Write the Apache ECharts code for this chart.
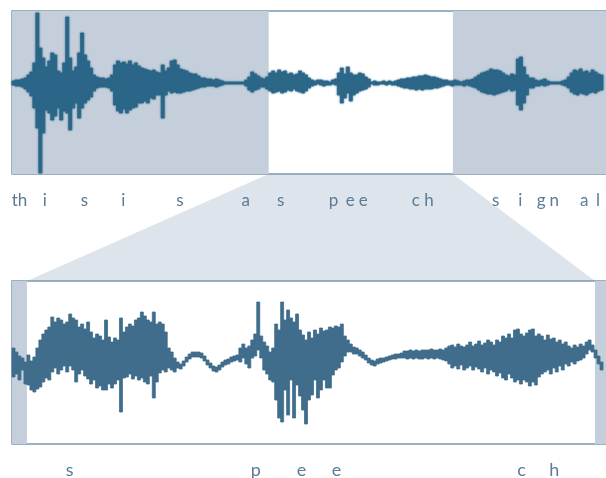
<!DOCTYPE html>
<html>
<head>
<meta charset="utf-8">
<style>
  html, body { margin: 0; padding: 0; background: #ffffff; }
  #chart { width: 606px; height: 478px; }
</style>
<script src="https://cdn.jsdelivr.net/npm/echarts@6/dist/echarts.min.js"></script>
</head>
<body>
<div id="chart"></div>
<script>
// Full utterance: per-column peak envelope (upper / lower amplitude), one column per time step
const fullHigh = [
  2, 3, 3, 4, 5, 8, 11, 20, 70, 35,
  25, 16, 22, 30, 28, 12, 10, 20, 66, 25,
  12, 16, 30, 50, 28, 22, 15, 8, 6, 5,
  5, 4, 5, 8, 18, 22, 20, 21, 19, 22,
  18, 20, 17, 15, 14, 13, 12, 13, 11, 10,
  18, 12, 15, 22, 23, 18, 14, 13, 12, 10,
  9, 9, 7, 5, 5, 4, 4, 3, 4, 3,
  2, 1, 1, 1, 1, 1, 1, 1, 3, 6,
  11, 9, 7, 5, 4, 6, 10, 12, 10, 13,
  11, 12, 9, 10, 8, 9, 12, 10, 8, 5,
  3, 2, 3, 3, 2, 2, 1, 3, 4, 10,
  15, 9, 16, 10, 8, 8, 10, 9, 6, 4,
  1, 2, 1, 1, 2, 1, 2, 1, 2, 3,
  4, 4, 5, 5, 6, 6, 7, 7, 8, 7,
  6, 6, 5, 4, 3, 3, 2, 2, 3, 2,
  1, 2, 3, 3, 4, 6, 8, 10, 11, 12,
  14, 13, 13, 12, 10, 8, 7, 9, 8, 24,
  26, 16, 8, 5, 5, 3, 2, 3, 4, 2,
  1, 1, 1, 1, 2, 3, 6, 10, 13, 12,
  14, 11, 12, 10, 13, 11, 9, 8
];
const fullLow = [
  -2, -3, -3, -4, -6, -9, -13, -25, -45, -90,
  -50, -27, -30, -37, -33, -25, -37, -28, -30, -47,
  -25, -20, -35, -25, -20, -17, -14, -8, -5, -4,
  -4, -4, -5, -8, -22, -28, -30, -26, -30, -27,
  -25, -24, -20, -20, -18, -20, -15, -16, -12, -12,
  -35, -12, -8, -10, -9, -10, -10, -9, -8, -8,
  -7, -6, -5, -4, -4, -3, -3, -3, -4, -3,
  -2, -1, -1, -1, -1, -1, -1, -1, -3, -7,
  -9, -7, -6, -4, -4, -6, -8, -10, -9, -8,
  -10, -9, -7, -8, -6, -8, -9, -10, -8, -5,
  -3, -2, -1, -2, -3, -2, -2, -1, -2, -12,
  -20, -15, -10, -18, -12, -10, -8, -7, -6, -4,
  -1, -2, -2, -1, -1, -2, -1, -2, -2, -3,
  -4, -5, -5, -6, -6, -7, -6, -7, -6, -6,
  -6, -5, -5, -4, -3, -2, -2, -3, -2, -2,
  -2, -3, -2, -3, -4, -5, -7, -9, -10, -11,
  -11, -12, -11, -10, -9, -8, -6, -8, -7, -22,
  -27, -20, -12, -5, -5, -3, -3, -2, -3, -2,
  -1, -1, -1, -1, -2, -3, -5, -9, -11, -12,
  -10, -11, -12, -10, -9, -10, -8, -7
];

// Zoomed excerpt ("speech"): same envelope format, finer time resolution
const zoomHigh = [
  12, 8, 4, 2, -2, 5, -1, 3, 12, 20,
  26, 30, 33, 43, 38, 42, 40, 36, 38, 46,
  42, 40, 33, 36, 31, 38, 28, 22, 26, 24,
  20, 40, 23, 18, 22, 20, 42, 28, 33, 36,
  34, 40, 42, 48, 44, 40, 38, 48, 36, 38,
  36, 28, 12, 8, 2, -2, -4, -1, 3, 6,
  8, 8, 8, 7, 4, 0, -3, -6, -7, -5,
  -2, 0, 1, 3, 4, 5, 12, 16, 12, 14,
  20, 26, 58, 24, 18, 14, 8, 12, 36, 30,
  58, 40, 50, 42, 38, 46, 30, 25, 20, 28,
  22, 30, 26, 32, 29, 30, 33, 32, 34, 33,
  36, 24, 20, 16, 13, 12, 10, 8, 5, 2,
  0, -1, 1, 2, 2, 3, 4, 5, 6, 6,
  7, 9, 9, 10, 9, 10, 9, 10, 10, 10,
  11, 10, 10, 11, 10, 12, 14, 15, 13, 16,
  14, 13, 15, 18, 14, 16, 19, 15, 17, 20,
  18, 15, 20, 18, 24, 22, 26, 22, 30, 31,
  26, 24, 27, 30, 31, 24, 26, 24, 20, 25,
  21, 22, 18, 20, 16, 18, 14, 12, 15, 13,
  16, 14, 18, 20, 15, 10, 4, -2
];
const zoomLow = [
  -17, -14, -20, -10, -24, -25, -30, -32, -29, -27,
  -22, -18, -20, -12, -8, -14, -10, -6, -12, -6,
  -10, -22, -14, -10, -16, -19, -24, -20, -28, -26,
  -30, -30, -24, -28, -24, -20, -52, -18, -17, -14,
  -19, -16, -20, -18, -22, -24, -16, -38, -22, -13,
  -10, -12, -8, -10, -12, -8, -9, -6, -2, 1,
  3, 3, 3, 2, -1, -5, -8, -11, -12, -10,
  -7, -5, -4, -2, -1, 0, -2, 2, -4, -8,
  2, 4, 10, 2, -10, -14, -20, -22, -40, -58,
  -62, -30, -55, -20, -58, -25, -36, -50, -64, -40,
  -35, -20, -38, -30, -20, -28, -28, -15, -10, -8,
  -2, 4, 8, 8, 6, 6, 4, 2, 0, -3,
  -5, -6, -4, -3, -2, -1, 0, 1, 1, 2,
  2, 2, 1, 2, 1, 2, 1, 1, 2, 1,
  2, 1, 2, 1, 0, -1, -4, -8, -6, -9,
  -5, -10, -8, -6, -10, -7, -9, -12, -8, -14,
  -10, -12, -16, -13, -18, -20, -14, -18, -22, -20,
  -24, -20, -22, -26, -22, -25, -17, -14, -12, -10,
  -14, -8, -12, -6, -10, -4, -6, -2, -4, -1,
  0, 2, 6, 10, 8, 2, -4, -10
];

// Part of the utterance shown magnified below (in full-signal columns)
const zoomWindow = [86, 147.7];
// Lead-in / lead-out margins around that part in the magnified view (in excerpt columns)
const excerptWindow = [5, 195.3];

// Transcription letters placed at their time positions
const fullLetters = ['t', 'h', 'i', 's', 'i', 's', 'a', 's', 'p', 'e', 'e', 'c', 'h', 's', 'i', 'g', 'n', 'a', 'l'];
const fullLetterAt = [0.9, 3.5, 11, 24.3, 37.3, 56.3, 78.3, 90, 107.7, 113.3, 117.7, 135.3, 139.7, 162, 170.3, 177.3, 181.7, 191.7, 196.3];
const zoomLetters = ['s', 'p', 'e', 'e', 'c', 'h'];
const zoomLetterAt = [19.3, 81.7, 97, 108.7, 170.7, 181.7];

const COLS = 199;
const fullData = fullHigh.map((h, i) => [i, fullLow[i], h]);
const zoomData = zoomHigh.map((h, i) => [i, zoomLow[i], h]);

const panelFill = '#c4cfdb';
const frameColor = '#7c97af';
const letterColor = '#5b7b96';

// Draws the whole envelope as one stepped outline: upper edge left to right,
// lower edge right to left, each column held flat across its width.
function envelope(data, color, blur) {
  return function (params, api) {
    if (params.dataIndex !== 0) return null;
    const pts = [];
    for (let i = 0; i < data.length; i++) {
      const a = api.coord([data[i][0], data[i][2]]);
      const b = api.coord([data[i][0] + 1, data[i][2]]);
      pts.push(a, b);
    }
    for (let i = data.length - 1; i >= 0; i--) {
      const a = api.coord([data[i][0] + 1, data[i][1]]);
      const b = api.coord([data[i][0], data[i][1]]);
      pts.push(a, b);
    }
    return {
      type: 'polygon',
      shape: { points: pts },
      style: { fill: color, stroke: color, lineWidth: 0.8, shadowBlur: blur, shadowColor: color }
    };
  };
}

const chart = echarts.init(document.getElementById('chart'), null, { renderer: 'canvas' });

const hiddenAxis = { show: false, splitLine: { show: false } };

chart.setOption({
  animation: false,
  backgroundColor: '#ffffff',
  grid: [
    { left: 12, top: 11, width: 597, height: 163, show: true, backgroundColor: '#ffffff', borderColor: frameColor, borderWidth: 1.5, z: 0 },
    { left: 12, top: 281, width: 597, height: 163, show: true, backgroundColor: '#ffffff', borderColor: frameColor, borderWidth: 1.5, z: 0 }
  ],
  xAxis: [
    Object.assign({ type: 'value', gridIndex: 0, min: 0, max: COLS }, hiddenAxis),
    Object.assign({ type: 'value', gridIndex: 1, min: 0, max: COLS }, hiddenAxis)
  ],
  yAxis: [
    Object.assign({ type: 'value', gridIndex: 0, min: -91, max: 72 }, hiddenAxis),
    Object.assign({ type: 'value', gridIndex: 1, min: -84, max: 79 }, hiddenAxis)
  ],
  series: [
    {
      type: 'line', xAxisIndex: 0, yAxisIndex: 0, data: [], silent: true, z: 1,
      markArea: {
        silent: true,
        itemStyle: { color: panelFill },
        data: [
          [{ xAxis: 0 }, { xAxis: zoomWindow[0] }],
          [{ xAxis: zoomWindow[1] }, { xAxis: COLS }]
        ]
      }
    },
    {
      type: 'line', xAxisIndex: 1, yAxisIndex: 1, data: [], silent: true, z: 1,
      markArea: {
        silent: true,
        itemStyle: { color: panelFill },
        data: [
          [{ xAxis: 0 }, { xAxis: excerptWindow[0] }],
          [{ xAxis: excerptWindow[1] }, { xAxis: COLS }]
        ]
      }
    },
    {
      type: 'custom', xAxisIndex: 0, yAxisIndex: 0, z: 3, silent: true,
      renderItem: envelope(fullData, 'rgba(40, 100, 134, 0.9)', 2),
      encode: { x: 0, y: [1, 2] },
      data: fullData
    },
    {
      type: 'custom', xAxisIndex: 1, yAxisIndex: 1, z: 3, silent: true,
      renderItem: envelope(zoomData, '#3f6d8b', 0),
      encode: { x: 0, y: [1, 2] },
      data: zoomData
    }
  ]
});

// Funnel joining the selected part of the full signal to the magnified view,
// plus the letter rows, all placed through the axes' own scales
const tl = chart.convertToPixel({ gridIndex: 0 }, [zoomWindow[0], -91]);
const tr = chart.convertToPixel({ gridIndex: 0 }, [zoomWindow[1], -91]);
const bl = chart.convertToPixel({ gridIndex: 1 }, [excerptWindow[0], 79]);
const br = chart.convertToPixel({ gridIndex: 1 }, [excerptWindow[1], 79]);

const graphics = [{
  type: 'polygon', z: -1, silent: true,
  shape: { points: [tl, tr, br, bl] },
  style: { fill: '#dde4eb' }
}];

const fullRowY = 201;
fullLetters.forEach((ch, k) => {
  const x = chart.convertToPixel({ xAxisIndex: 0 }, fullLetterAt[k]);
  graphics.push({
    type: 'text', x: x, y: fullRowY, z: 10, silent: true,
    style: { text: ch, fill: letterColor, font: '17px Lato', align: 'center', verticalAlign: 'middle' }
  });
});
const zoomRowY = 470;
zoomLetters.forEach((ch, k) => {
  const x = chart.convertToPixel({ xAxisIndex: 1 }, zoomLetterAt[k]);
  graphics.push({
    type: 'text', x: x, y: zoomRowY, z: 10, silent: true,
    style: { text: ch, fill: letterColor, font: '18px Lato', align: 'center', verticalAlign: 'middle' }
  });
});

chart.setOption({ graphic: graphics });
</script>
</body>
</html>
